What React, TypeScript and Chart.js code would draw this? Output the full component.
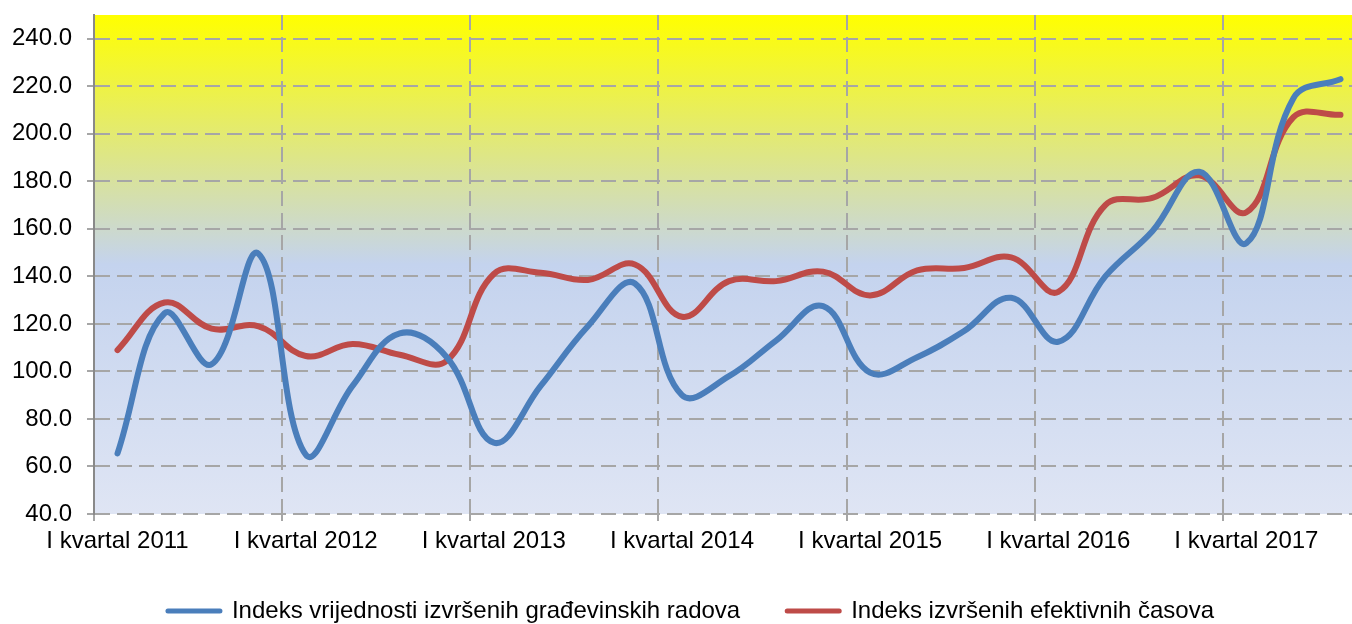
import React, { useEffect, useRef } from "react";
import { Chart, registerables } from "chart.js";

Chart.register(...registerables);

const categories: string[] = [
  "I kvartal 2011", "II kvartal 2011", "III kvartal 2011", "IV kvartal 2011",
  "I kvartal 2012", "II kvartal 2012", "III kvartal 2012", "IV kvartal 2012",
  "I kvartal 2013", "II kvartal 2013", "III kvartal 2013", "IV kvartal 2013",
  "I kvartal 2014", "II kvartal 2014", "III kvartal 2014", "IV kvartal 2014",
  "I kvartal 2015", "II kvartal 2015", "III kvartal 2015", "IV kvartal 2015",
  "I kvartal 2016", "II kvartal 2016", "III kvartal 2016", "IV kvartal 2016",
  "I kvartal 2017", "II kvartal 2017", "III kvartal 2017",
];

const vrijednostRadova: number[] = [
  65.5, 124.5, 103, 149.5,
  65, 94, 116, 106,
  70, 94, 119, 137,
  90, 98, 113, 127.5,
  99.5, 106, 117, 131,
  112.5, 140, 159, 184,
  154, 215, 223,
];

const efektivniCasovi: number[] = [
  109, 129, 118, 119,
  106.5, 111.5, 107, 104.5,
  141, 141.5, 138.5, 145,
  123, 138, 138, 142,
  132, 142.5, 143.5, 148,
  133.5, 170, 173, 182.5,
  167, 207, 208,
];

const yTickValues: number[] = [40, 60, 80, 100, 120, 140, 160, 180, 200, 220, 240];

const seriesNames: string[] = [
  "Indeks vrijednosti izvršenih građevinskih radova",
  "Indeks izvršenih efektivnih časova",
];

const FONT = "'Liberation Sans', Arial, sans-serif";
const GRID = "#A6A6A6";

const bgPlugin = {
  id: "bgGradient",
  afterLayout(chart: any) {
    if (chart.legend) {
      chart.legend.left += 9;
      chart.legend.right += 9;
    }
  },
  beforeDraw(chart: any) {
    const { ctx, chartArea: a } = chart;
    if (!a) return;
    const g = ctx.createLinearGradient(0, a.top, 0, a.bottom);
    g.addColorStop(0, "#FFFF00");
    g.addColorStop(0.5, "#C4D3EE");
    g.addColorStop(1, "#DFE5F4");
    ctx.save();
    ctx.fillStyle = g;
    ctx.fillRect(a.left, a.top, a.right - a.left, a.bottom - a.top);
    ctx.restore();
  },
};

export default function App() {
  const ref = useRef<HTMLCanvasElement | null>(null);

  useEffect(() => {
    if (!ref.current) return;
    const chart = new Chart(ref.current, {
      type: "line",
      data: {
        labels: categories,
        datasets: [
          {
            label: seriesNames[0],
            data: vrijednostRadova,
            borderColor: "#4A7EBB",
            backgroundColor: "#4A7EBB",
            borderWidth: 6,
            pointRadius: 0,
            pointHoverRadius: 0,
            pointBorderWidth: 5,
            tension: 0.4,
            borderCapStyle: "round",
            borderJoinStyle: "round",
            fill: false,
          },
          {
            label: seriesNames[1],
            data: efektivniCasovi,
            borderColor: "#BE4B48",
            backgroundColor: "#BE4B48",
            borderWidth: 6,
            pointRadius: 0,
            pointHoverRadius: 0,
            pointBorderWidth: 5,
            tension: 0.4,
            borderCapStyle: "round",
            borderJoinStyle: "round",
            fill: false,
          },
        ],
      },
      options: {
        animation: false,
        responsive: false,
        maintainAspectRatio: false,
        layout: { padding: { top: 15, left: 0, right: 0, bottom: 0 } },
        plugins: {
          tooltip: { enabled: false },
          legend: {
            position: "bottom",
            labels: {
              usePointStyle: true,
              pointStyle: "line",
              pointStyleWidth: 52,
              padding: 47,
              color: "#000",
              font: { family: FONT, size: 24 },
              generateLabels: (c: any) =>
                Chart.defaults.plugins.legend.labels
                  .generateLabels(c)
                  .map((l: any) => ({ ...l, lineCap: "round", lineWidth: 5 })),
            },
          },
        },
        scales: {
          x: {
            offset: true,
            grid: {
              offset: true,
              color: (c: any) => (c.index % 4 === 0 ? GRID : "rgba(0,0,0,0)"),
              lineWidth: 2,
              tickLength: 7,
            },
            border: { display: false, dash: [15, 7] },
            ticks: {
              autoSkip: false,
              maxRotation: 0,
              minRotation: 0,
              padding: 6,
              color: "#000",
              font: { family: FONT, size: 24 },
              callback: (_v: any, i: number) => (i % 4 === 0 ? categories[i] : ""),
            },
            afterFit: (s: any) => {
              s.height = 38;
            },
          },
          y: {
            min: 40,
            max: 250,
            afterBuildTicks: (s: any) => {
              s.ticks = yTickValues.map((v) => ({ value: v }));
            },
            grid: { color: GRID, lineWidth: 2, tickLength: 7 },
            border: { display: true, color: "#898989", width: 2, dash: [15, 7] },
            ticks: {
              padding: 15,
              color: "#000",
              font: { family: FONT, size: 24 },
              callback: (v: any) => Number(v).toFixed(1),
            },
            afterFit: (s: any) => {
              s.width = 94;
              s.paddingTop = 0;
              s.paddingBottom = 0;
            },
          },
        },
      },
      plugins: [bgPlugin],
    } as any);
    return () => chart.destroy();
  }, []);

  return (
    <div
      style={{
        position: "fixed",
        left: 0,
        top: 0,
        width: 1352,
        height: 624,
        overflow: "hidden",
        background: "#fff",
      }}
    >
      <canvas
        ref={ref}
        width={1364}
        height={633}
        style={{ display: "block", width: 1364, height: 633 }}
      />
    </div>
  );
}
